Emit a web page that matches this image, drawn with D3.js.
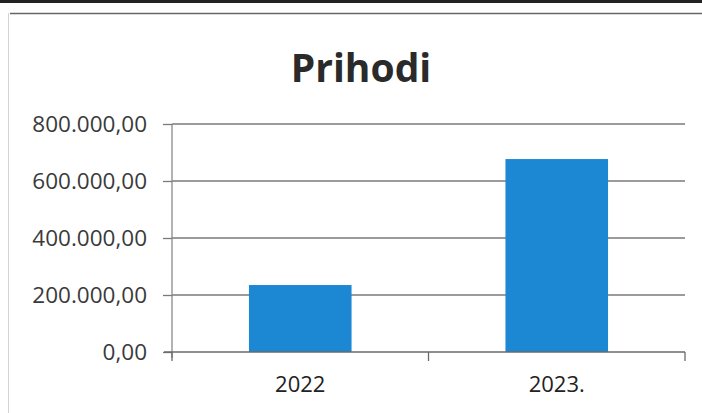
<!DOCTYPE html>
<html>
<head>
<meta charset="utf-8">
<script src="https://cdn.jsdelivr.net/npm/d3@7/dist/d3.min.js"></script>
<style>
  html, body { margin: 0; padding: 0; background: #fff; }
  svg { display: block; }
</style>
</head>
<body>
<svg id="chart" width="702" height="413"></svg>
<script>
const title = "Prihodi";
const categories = ["2022", "2023."];
const values = [235000, 677000];
const yTicks = [0, 200000, 400000, 600000, 800000];
const yMax = 800000;

const svg = d3.select("#chart");
const W = 702, H = 413;
const plot = { left: 172, right: 685, top: 124, bottom: 352 };

// scanned page frame
svg.append("rect").attr("x", 0).attr("y", 0).attr("width", W).attr("height", 3).attr("fill", "#222");
svg.append("line").attr("x1", 10).attr("x2", W).attr("y1", 13.5).attr("y2", 13.5)
  .attr("stroke", "#666").attr("stroke-width", 1.5);
svg.append("line").attr("x1", 8.5).attr("x2", 8.5).attr("y1", 13).attr("y2", H)
  .attr("stroke", "#d4d4d4").attr("stroke-width", 1);

const x = d3.scaleBand().domain(categories).range([plot.left, plot.right])
  .paddingInner(0.6).paddingOuter(0.3);
const y = d3.scaleLinear().domain([0, yMax]).range([plot.bottom, plot.top]);

// gridlines
svg.append("g").selectAll("line").data(yTicks.filter(d => d > 0)).join("line")
  .attr("x1", plot.left).attr("x2", plot.right)
  .attr("y1", d => y(d)).attr("y2", d => y(d))
  .attr("stroke", "#7a7a7a").attr("stroke-width", 1.3);

// bars
svg.append("g").selectAll("rect").data(values).join("rect")
  .attr("x", (d, i) => x(categories[i]))
  .attr("width", x.bandwidth())
  .attr("y", d => y(d))
  .attr("height", d => y(0) - y(d))
  .attr("fill", "#1c88d4");

// y axis
const fmt = v => {
  const s = d3.format(",.2f")(v);
  return s.replace(/,/g, "#").replace(".", ",").replace(/#/g, ".");
};
const yAxis = d3.axisLeft(y).tickValues(yTicks).tickFormat(fmt).tickSize(9).tickPadding(16);
const gy = svg.append("g").attr("transform", `translate(${plot.left},0)`).call(yAxis);
gy.select(".domain").attr("stroke", "#8a8a8a").attr("stroke-width", 1.3).attr("d", `M0,${plot.top}V${plot.bottom + 6}`);
gy.selectAll(".tick line").attr("stroke", "#7a7a7a").attr("stroke-width", 1.3);
gy.selectAll(".tick text")
  .attr("font-family", "'Open Sans', sans-serif").attr("font-size", 22.5)
  .attr("fill", "#3a3a3a");

// x axis line + boundary ticks
const xAxisG = svg.append("g");
xAxisG.append("line").attr("x1", plot.left - 8).attr("x2", plot.right)
  .attr("y1", y(0)).attr("y2", y(0)).attr("stroke", "#6a6a6a").attr("stroke-width", 1.5);
const bounds = [plot.left, ...categories.slice(1).map(c => x(c) - x.step() * x.paddingInner() / 2), plot.right];
xAxisG.selectAll("line.b").data(bounds).join("line").attr("class", "b")
  .attr("x1", d => d).attr("x2", d => d)
  .attr("y1", y(0)).attr("y2", y(0) + 9)
  .attr("stroke", "#6a6a6a").attr("stroke-width", 1.3);
xAxisG.selectAll("text").data(categories).join("text")
  .attr("x", d => x(d) + x.bandwidth() / 2)
  .attr("y", 392)
  .attr("text-anchor", "middle")
  .attr("font-family", "'Open Sans', sans-serif").attr("font-size", 22)
  .attr("fill", "#222")
  .text(d => d);

// title
svg.append("text").attr("x", 361).attr("y", 82).attr("text-anchor", "middle")
  .attr("font-family", "'Open Sans', sans-serif").attr("font-weight", "bold")
  .attr("font-size", 39).attr("fill", "#2a2a2a").text(title);
</script>
</body>
</html>
